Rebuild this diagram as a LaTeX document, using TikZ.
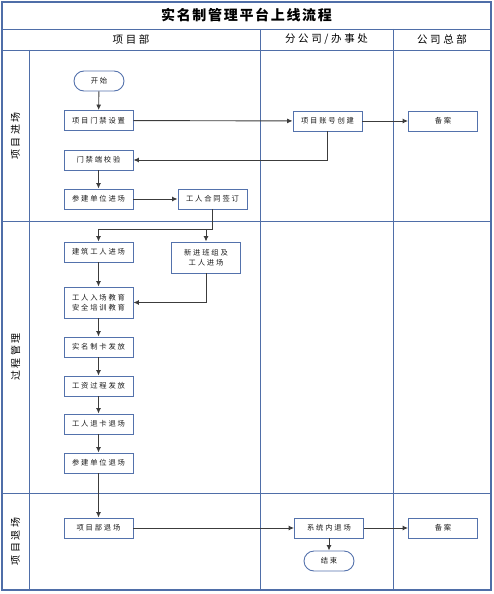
\documentclass[tikz,border=0pt]{standalone}
\usepackage{fontspec}
\setmainfont[LetterSpace=25]{Noto Sans CJK SC}
\usetikzlibrary{arrows.meta, positioning}
\definecolor{lanecol}{RGB}{79,110,168}
\definecolor{boxcol}{RGB}{84,114,172}
\definecolor{linecol}{RGB}{60,60,60}
\tikzstyle{lane} = [draw=lanecol, line width=0.8pt]
\tikzstyle{task} = [draw=boxcol, line width=0.9pt, minimum width=69pt, minimum height=20pt,
  inner sep=1pt, align=center, text=black!90, font=\fontsize{7.3}{10}\selectfont]
\tikzstyle{term} = [task, rounded corners=10pt, minimum width=50pt]
\tikzstyle{arrow} = [line width=0.9pt, draw=linecol, -{Latex[length=5.5pt, width=5pt]}]

\begin{document}
\begin{tikzpicture}[x=1pt, y=-1pt]
    \useasboundingbox (0,0) rectangle (493,594);
    % lanes
    \draw[lane, line width=1.2pt] (2,2) rectangle (491,590);
    \foreach \y in {29,50,221,493}
      \draw[lane] (2,\y) -- (491,\y);
    \foreach \x in {260,393}
      \draw[lane] (\x,29) -- (\x,590);
    \draw[lane] (29,50) -- (29,590);

    \node[font=\fontsize{14}{16}\selectfont\bfseries\addfontfeature{LetterSpace=12}] (title) at (246.5,15.5) {实名制管理平台上线流程};
    \node[font=\fontsize{10.5}{12}\selectfont] (hdproj) at (131,39.5) {项目部};
    \node[font=\fontsize{10.5}{12}\selectfont] (hdbranch) at (326.5,39.5) {分公司/办事处};
    \node[font=\fontsize{10.5}{12}\selectfont] (hdhq) at (442,39.5) {公司总部};
    \node[rotate=90, font=\fontsize{10}{12}\selectfont] (laneA) at (15.5,136) {项目进场};
    \node[rotate=90, font=\fontsize{10}{12}\selectfont] (laneB) at (15.5,357) {过程管理};
    \node[rotate=90, font=\fontsize{10}{12}\selectfont] (laneC) at (15.5,541.5) {项目退场};

    % steps
    \node[term] (start) at (99,81) {开始};
    \node[task] (setgate) at (98.5,120.5) {项目门禁设置};
    \node[task] (account) at (327.5,121) {项目账号创建};
    \node[task] (filing) at (443,121) {备案};
    \node[task] (check) at (98.5,160) {门禁端校验};
    \node[task] (unitin) at (98.5,199) {参建单位进场};
    \node[task] (contract) at (212.5,199) {工人合同签订};
    \node[task] (workerin) at (98.5,252) {建筑工人进场};
    \node[task, minimum height=31pt] (newteam) at (206,257.5) {新进班组及\\工人进场};
    \node[task, minimum height=31pt] (edu) at (98.5,302.5) {工人入场教育\\安全培训教育};
    \node[task] (card) at (98.5,347) {实名制卡发放};
    \node[task] (wage) at (98.5,386) {工资过程发放};
    \node[task] (cardout) at (98.5,424) {工人退卡退场};
    \node[task] (unitout) at (98.5,463) {参建单位退场};
    \node[task] (projout) at (98.5,528) {项目部退场};
    \node[task] (sysout) at (329,528) {系统内退场};
    \node[task] (filing2) at (443,528) {备案};
    \node[term] (finish) at (329,561) {结束};
    \coordinate (split) at (212.5,229);

    % flow
    \draw[arrow] (start) -- (setgate);
    \draw[arrow] (setgate) -- (account);
    \draw[arrow] (account) -- (filing);
    \draw[arrow] (account.south) |- (check.east);
    \draw[arrow] (check) -- (unitin);
    \draw[arrow] (unitin) -- (contract);
    \draw[arrow] (contract.south) -- (split) -| (workerin.north);
    \draw[arrow] (newteam.north |- split) -- (newteam.north);
    \draw[arrow] (workerin) -- (edu);
    \draw[arrow] (newteam.south) |- (edu.east);
    \foreach \a/\b in {edu/card, card/wage, wage/cardout, cardout/unitout, unitout/projout}
      \draw[arrow] (\a) -- (\b);
    \draw[arrow] (projout) -- (sysout);
    \draw[arrow] (sysout) -- (filing2);
    \draw[arrow] (sysout) -- (finish);
\end{tikzpicture}
\end{document}
